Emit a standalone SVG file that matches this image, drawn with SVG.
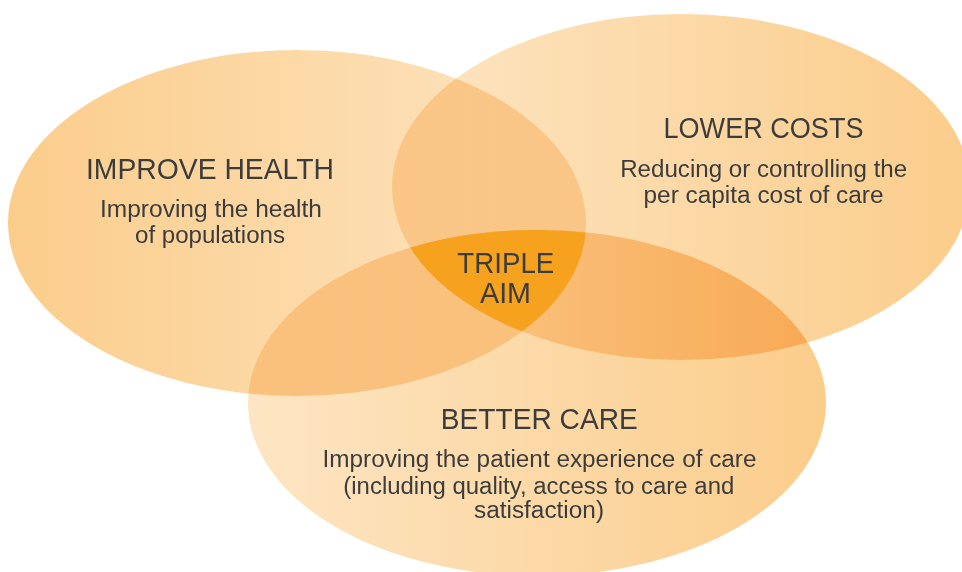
<svg xmlns="http://www.w3.org/2000/svg" width="962" height="572" viewBox="0 0 962 572">
<style>
.blob{mix-blend-mode:multiply}
.t{font-family:"Liberation Sans","DejaVu Sans",sans-serif;fill:#3c3c3c;text-anchor:middle}
.h{font-size:29px}
.b{font-size:23px}
</style>
<defs>
<linearGradient id="gDarkLeft" x1="0" y1="0" x2="1" y2="0">
<stop offset="0" stop-color="#fbcd8b"/>
<stop offset="1" stop-color="#fde5c3"/>
</linearGradient>
<linearGradient id="gDarkRight" x1="0" y1="0" x2="1" y2="0">
<stop offset="0" stop-color="#fde5c3"/>
<stop offset="1" stop-color="#fbcd8b"/>
</linearGradient>
<clipPath id="cLeft"><ellipse cx="297" cy="223" rx="289" ry="173"/></clipPath>
<clipPath id="cRight"><ellipse cx="681" cy="187" rx="289" ry="173"/></clipPath>
</defs>
<rect width="962" height="572" fill="#ffffff"/>
<g id="improve-health">
<ellipse class="blob" cx="297" cy="223" rx="289" ry="173" fill="url(#gDarkLeft)"/>
<text class="t h" x="210" y="179" textLength="248" lengthAdjust="spacingAndGlyphs">IMPROVE HEALTH</text>
<text class="t b" x="211" y="217" textLength="222" lengthAdjust="spacingAndGlyphs">Improving the health</text>
<text class="t b" x="210" y="243" textLength="150" lengthAdjust="spacingAndGlyphs">of populations</text>
</g>
<g id="lower-costs">
<ellipse class="blob" cx="681" cy="187" rx="289" ry="173" fill="url(#gDarkRight)"/>
<text class="t h" x="763.5" y="138" textLength="200" lengthAdjust="spacingAndGlyphs">LOWER COSTS</text>
<text class="t b" x="763.7" y="177" textLength="287" lengthAdjust="spacingAndGlyphs">Reducing or controlling the</text>
<text class="t b" x="763.5" y="203" textLength="240" lengthAdjust="spacingAndGlyphs">per capita cost of care</text>
</g>
<g id="better-care">
<ellipse class="blob" cx="537" cy="403" rx="289" ry="173" fill="url(#gDarkRight)"/>
<text class="t h" x="539.3" y="429" textLength="197" lengthAdjust="spacingAndGlyphs">BETTER CARE</text>
<text class="t b" x="539.5" y="467" textLength="434" lengthAdjust="spacingAndGlyphs">Improving the patient experience of care</text>
<text class="t b" x="538.8" y="494" textLength="391" lengthAdjust="spacingAndGlyphs">(including quality, access to care and</text>
<text class="t b" x="539" y="518" textLength="130" lengthAdjust="spacingAndGlyphs">satisfaction)</text>
</g>
<g id="triple-aim">
<g clip-path="url(#cLeft)">
<g clip-path="url(#cRight)">
<ellipse cx="537" cy="403" rx="289" ry="173" fill="#f7a21f"/>
</g>
</g>
<text class="t h" x="505.8" y="273" textLength="97" lengthAdjust="spacingAndGlyphs">TRIPLE</text>
<text class="t h" x="505.5" y="303" textLength="51" lengthAdjust="spacingAndGlyphs">AIM</text>
</g>
<g id="connectors"/>
</svg>
